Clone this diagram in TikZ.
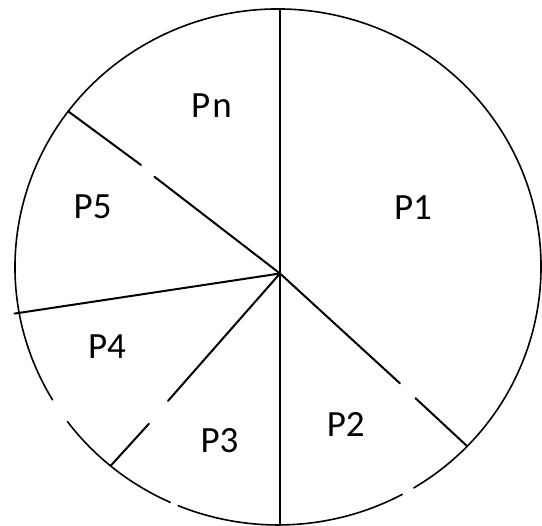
\documentclass[tikz,border=0pt]{standalone}
\usepackage{fontspec}
\setmainfont{Carlito}
\begin{document}
\begin{tikzpicture}[x=1pt,y=1pt,
  rim/.style={line width=1.6pt,line cap=round},
  spoke/.style={line width=2pt,line cap=round},
  lbl/.style={font=\fontsize{37}{40}\selectfont,inner sep=0pt}]
\useasboundingbox (0,0) rectangle (542,526);
% hub and rim
\coordinate (H) at (280,252.5);
\def\cx{278}\def\cy{259}\def\rx{263}\def\ry{258}
% rim with gaps
\draw[rim] ({\cx+\rx*cos(301.1)},{\cy+\ry*sin(301.1)}) arc[start angle=301.1,end angle=571.0,x radius=\rx,y radius=\ry];
\draw[rim] ({\cx+\rx*cos(216.8)},{\cy+\ry*sin(216.8)}) arc[start angle=216.8,end angle=245.8,x radius=\rx,y radius=\ry];
\draw[rim] ({\cx+\rx*cos(247.7)},{\cy+\ry*sin(247.7)}) arc[start angle=247.7,end angle=298.2,x radius=\rx,y radius=\ry];
% spoke end points
\coordinate (E1) at ({\cx+\rx*cos(142.9)},{\cy+\ry*sin(142.9)});
\coordinate (E2) at (14.5,212.4);
\coordinate (E3) at ({\cx+\rx*cos(230.45)},{\cy+\ry*sin(230.45)});
\coordinate (E4) at ({\cx+\rx*cos(316)},{\cy+\ry*sin(316)});
\coordinate (T) at (280,516);
\coordinate (B) at (280,0);
\coordinate (Ba) at (280,143);
\coordinate (Bb) at (280,29);
% gap points
\coordinate (G1a) at (141,361);
\coordinate (G1b) at (154.5,349.2);
\coordinate (G3a) at (149,102.3);
\coordinate (G3b) at (168,125.1);
\coordinate (G4a) at (400,142.6);
\coordinate (G4b) at (415.5,127.8);
% spokes
\draw[spoke,line width=1.7pt] (T) -- (Ba);
\draw[line width=1.1pt] (Ba) -- (Bb);
\draw[spoke,line width=1.7pt] (Bb) -- (B);
\draw[spoke] (E1) -- (G1a);
\draw[spoke] (G1b) -- (H);
\draw[spoke] (E2) -- (H);
\draw[spoke] (E3) -- (G3a);
\draw[spoke] (G3b) -- (H);
\draw[spoke] (H) -- (G4a);
\draw[spoke] (G4b) -- (E4);
% labels
\node[lbl] (pn) at (211.5,420.3) {P\kern2pt n};
\node[lbl] (p5) at (92.6,319.7) {P5};
\node[lbl] (p1) at (413,318) {P1};
\node[lbl] (p4) at (107,179) {P4};
\node[lbl] (p3) at (219.5,85) {P3};
\node[lbl] (p2) at (345.7,101.6) {P2};
\end{tikzpicture}
\end{document}
